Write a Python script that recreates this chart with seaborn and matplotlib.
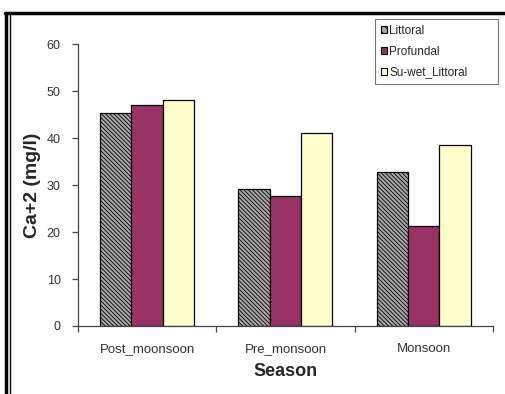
import pandas as pd
import matplotlib
matplotlib.use('Agg')
import matplotlib.pyplot as plt
import seaborn as sns
from matplotlib.lines import Line2D

# values
seasons = ['Post_moonsoon', 'Pre_monsoon', 'Monsoon']
zones = ['Littoral', 'Profundal', 'Su-wet_Littoral']
littoral = [45.3, 29.2, 32.8]
profundal = [47.0, 27.6, 21.3]
su_wet = [48.1, 41.0, 38.5]

colors = ['#a8a8a8', '#993366', '#ffffcc']
hatch = '\\\\\\\\\\\\\\\\'

df = pd.DataFrame({
    'Season': seasons * 3,
    'Zone': [z for z in zones for _ in seasons],
    'Ca': littoral + profundal + su_wet,
})

sns.set_style('white')
plt.rcParams['font.family'] = ['Liberation Sans', 'DejaVu Sans']
plt.rcParams['hatch.linewidth'] = 0.6

fig = plt.figure(figsize=(5.05, 3.94), dpi=100)
ax = fig.add_axes([0.1545, 0.1726, 0.8215, 0.7154])

sns.barplot(data=df, x='Season', y='Ca', hue='Zone', order=seasons, hue_order=zones,
            palette=colors, width=0.68, gap=0, edgecolor='black', linewidth=0.9,
            saturation=1, ax=ax, legend=False)

# hatch the Littoral bars
for bar in ax.containers[0]:
    bar.set_hatch(hatch)

ax.set_ylim(0, 60)
ax.set_xlim(-0.5, 2.5)
ax.set_yticks(range(0, 61, 10))
ax.set_xticks([-0.5, 0.5, 1.5, 2.5], minor=True)
ax.set_xticks(range(3))
ax.set_xticklabels(seasons)
for s in ['top', 'right']:
    ax.spines[s].set_visible(False)
for s in ['left', 'bottom']:
    ax.spines[s].set_color('#444444')
    ax.spines[s].set_linewidth(0.9)
ax.tick_params(axis='x', which='major', length=0, labelsize=9.5, colors='#333333', pad=12)
ax.tick_params(axis='x', which='minor', bottom=True, length=4, width=0.9,
               color='#444444', direction='out')
ax.tick_params(axis='y', length=4, width=0.9, color='#444444', labelsize=9,
               labelcolor='#333333', direction='out', pad=8.5, left=True)
ax.set_xlabel('Season', fontsize=13, fontweight='bold', labelpad=6)
ax.set_ylabel('Ca+2 (mg/l)', fontsize=14, fontweight='bold', labelpad=4)

# legend
handles = [plt.Rectangle((0, 0), 1, 1, facecolor=c, edgecolor='black', linewidth=0.8)
           for c in colors]
handles[0].set_hatch('\\\\\\\\')
leg = fig.legend(handles, zones, loc='upper left', mode='expand',
                 bbox_to_anchor=(0.7426, 0.79, 0.2436, 0.162), borderaxespad=0,
                 fontsize=8.5, frameon=True, fancybox=False, edgecolor='#555555',
                 handlelength=0.5, handleheight=0.5, handletextpad=0.2,
                 labelspacing=0.75, borderpad=0.5)
leg.get_frame().set_linewidth(0.8)

# page frame around the chart
fig.add_artist(Line2D([0.01, 1.0], [0.968, 0.968], color='black', lw=2.5,
                      transform=fig.transFigure))
fig.add_artist(Line2D([0.011, 0.011], [0, 0.968], color='black', lw=2.5,
                      transform=fig.transFigure))
fig.add_artist(Line2D([0.019, 0.019], [0, 0.962], color='black', lw=1.0,
                      transform=fig.transFigure))

fig.savefig('out.png', dpi=100)
